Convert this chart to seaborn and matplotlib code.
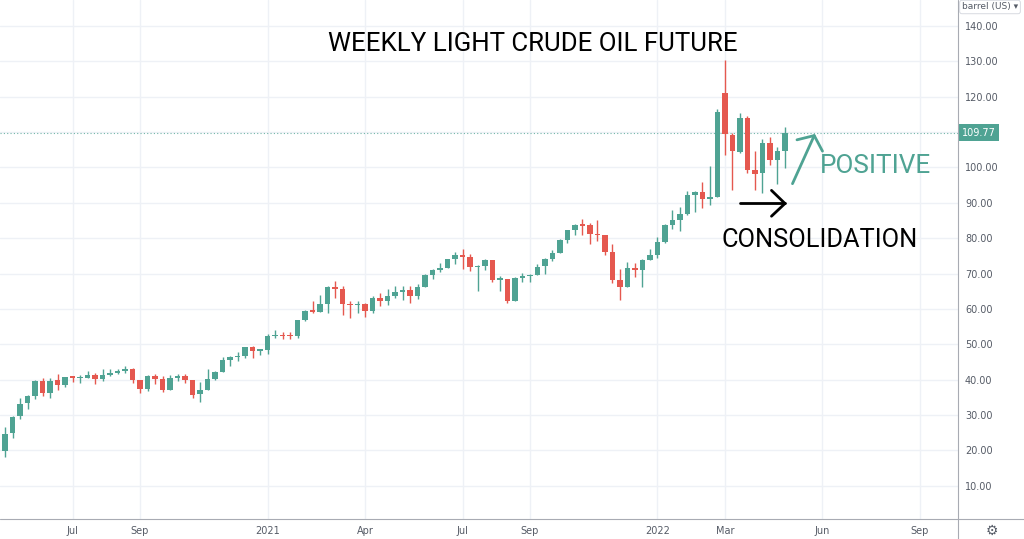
import numpy as np
import pandas as pd
import matplotlib
matplotlib.use("Agg")
import matplotlib.pyplot as plt
import seaborn as sns

# ==========================================
# DATA  (weekly light crude oil future, week of 2020-05-04 .. 2022-05-02)
# ==========================================

start_week = "2020-05-04"

opens = [19.8, 24.9, 29.6, 33.3, 35.5, 39.6, 36.3, 39.8, 38.5, 40.6,
         40.5, 40.6, 41.3, 40.3, 41.3, 42.0, 42.4, 43.0, 39.8, 37.3,
         41.1, 40.3, 37.1, 40.6, 40.9, 39.9, 35.8, 37.1, 40.1, 42.2,
         45.5, 46.3, 46.6, 49.1, 48.2,
         48.5, 52.2, 52.4, 52.3, 52.2, 56.9, 59.5, 59.2, 61.5, 66.1,
         65.6, 61.4, 61.0, 61.5, 59.3, 63.1, 62.1, 63.6, 64.9, 65.4,
         63.6, 66.3, 69.6, 70.9, 71.6, 74.1, 75.2, 74.6, 71.8, 72.1,
         73.9, 68.3, 68.4, 62.3, 68.7, 69.3, 69.7, 72.0, 74.0, 75.9,
         79.4, 82.3, 83.8, 83.6, 81.3, 80.8, 76.1, 68.2, 66.3, 71.7,
         70.9, 73.8,
         75.2, 78.9, 83.8, 85.1, 86.8, 92.3, 93.1, 91.1, 91.6, 121.0,
         109.3, 104.3, 113.9, 99.3, 98.3, 107.0, 102.1, 104.7]

highs = [26.7, 29.6, 34.7, 35.6, 39.8, 40.4, 40.4, 41.6, 40.8, 41.0,
         41.4, 42.5, 41.9, 43.0, 43.0, 43.0, 43.8, 43.4, 39.8, 41.4,
         41.6, 40.9, 41.4, 41.5, 41.7, 39.9, 39.2, 43.1, 42.4, 46.3,
         46.7, 47.7, 49.3, 49.5, 48.6,
         52.8, 53.9, 53.5, 53.4, 57.0, 59.8, 62.3, 63.8, 66.4, 67.9,
         66.4, 62.3, 62.3, 61.6, 63.7, 64.4, 65.5, 66.6, 66.4, 66.5,
         67.0, 69.8, 71.2, 73.0, 74.2, 76.2, 77.0, 75.5, 72.5, 74.0,
         73.9, 69.3, 68.5, 69.0, 70.1, 70.0, 72.6, 74.3, 76.7, 79.8,
         82.3, 84.0, 85.4, 84.3, 85.0, 81.0, 78.4, 71.3, 73.3, 72.9,
         74.0, 77.0,
         80.2, 84.0, 87.9, 88.8, 93.2, 93.2, 95.8, 100.5, 116.6, 130.5,
         109.7, 115.4, 114.5, 104.7, 108.0, 108.6, 105.8, 111.4]

lows = [18.1, 23.4, 28.8, 31.6, 34.4, 35.4, 34.7, 37.1, 37.9, 39.4,
        39.1, 40.4, 38.7, 39.6, 41.0, 41.5, 42.0, 39.0, 36.1, 36.9,
        38.9, 36.6, 37.0, 39.5, 39.0, 34.9, 33.6, 37.0, 39.8, 42.1,
        43.9, 45.2, 46.2, 46.2, 47.1,
        47.2, 51.8, 51.4, 51.5, 51.8, 56.7, 58.7, 59.0, 58.9, 63.1,
        58.3, 57.3, 58.9, 57.6, 58.9, 60.8, 61.1, 63.1, 62.4, 61.6,
        62.9, 66.1, 68.5, 70.4, 71.5, 72.6, 71.4, 70.8, 65.0, 71.1,
        67.6, 65.2, 61.7, 62.1, 67.6, 67.5, 69.5, 69.8, 73.5, 75.8,
        78.7, 81.0, 81.0, 78.3, 79.2, 75.3, 67.4, 62.4, 66.1, 69.0,
        66.1, 73.8,
        74.3, 78.5, 82.7, 82.0, 86.6, 87.4, 88.4, 89.3, 91.6, 103.5,
        93.5, 104.0, 98.4, 93.6, 92.9, 100.6, 95.3, 99.8]

closes = [24.74, 29.43, 33.25, 35.49, 39.55, 36.26, 39.75, 38.49, 40.65, 40.55,
          40.59, 41.29, 40.27, 41.22, 42.01, 42.34, 42.97, 39.77, 37.33, 41.11,
          40.25, 37.05, 40.60, 40.88, 39.85, 35.79, 37.14, 40.13, 42.15, 45.53,
          46.26, 46.57, 49.10, 48.23, 48.52,
          52.24, 52.36, 52.27, 52.20, 56.85, 59.47, 59.24, 61.50, 66.09, 65.61,
          61.42, 60.97, 61.45, 59.32, 63.13, 62.14, 63.58, 64.90, 65.37, 63.58,
          66.32, 69.62, 70.91, 71.64, 74.05, 75.16, 74.56, 71.81, 72.07, 73.95,
          68.28, 68.44, 62.32, 68.74, 69.29, 69.72, 71.97, 73.98, 75.88, 79.35,
          82.28, 83.76, 83.57, 81.27, 80.79, 76.10, 68.15, 66.26, 71.67, 70.86,
          73.79, 75.21,
          78.90, 83.82, 85.14, 86.82, 92.31, 93.10, 91.07, 91.59, 115.68, 109.33,
          104.70, 113.90, 99.27, 98.26, 106.95, 102.07, 104.69, 109.77]

tick_dates = ["2020-07-06", "2020-09-07", "2021-01-04", "2021-04-05", "2021-07-05",
              "2021-09-06", "2022-01-03", "2022-03-07", "2022-06-06", "2022-09-05"]
tick_labels = ["Jul", "Sep", "2021", "Apr", "Jul", "Sep", "2022", "Mar", "Jun", "Sep"]
price_ticks = list(range(10, 150, 10))

# ==========================================
# PREP
# ==========================================

df = pd.DataFrame({
    "week": pd.date_range(start_week, periods=len(closes), freq="7D"),
    "open": opens,
    "high": highs,
    "low": lows,
    "close": closes,
})
df["idx"] = np.arange(len(df))
df["up"] = df["close"] >= df["open"]

t0 = pd.Timestamp(start_week)
tick_pos = [(pd.Timestamp(d) - t0).days / 7 for d in tick_dates]

up_col = "#4fa393"
down_col = "#e5584f"
colors = np.where(df["up"], up_col, down_col)

# ==========================================
# PLOT
# ==========================================

sns.set_style("white")
plt.rcParams["font.family"] = ["DejaVu Sans"]
note_font = ["Roboto", "DejaVu Sans"]

fig = plt.figure(figsize=(10.24, 5.39), dpi=100)
ax = fig.add_axes([0, 20 / 539, 958 / 1024, 519 / 539])

# wicks
ax.vlines(df["idx"], df["low"], df["high"], colors=colors, lw=1, zorder=3)

# bodies
body_bottom = np.minimum(df["open"], df["close"])
body_height = np.maximum((df["close"] - df["open"]).abs(), 0.35)
ax.bar(df["idx"], body_height, bottom=body_bottom, width=0.72,
       color=colors, edgecolor="none", zorder=4)

# last price line
last = df["close"].iloc[-1]
ax.axhline(last, color=up_col, lw=0.8, ls=(0, (1, 2)), alpha=0.8, zorder=2)

ax.set_xlim(-0.67, 127.07)
ax.set_ylim(0.6, 147.33)

ax.set_xticks(tick_pos)
ax.set_xticklabels(tick_labels)
ax.set_yticks(price_ticks)
ax.set_yticklabels([f"{v:.2f}" for v in price_ticks])
ax.yaxis.tick_right()
ax.tick_params(axis="y", length=0, pad=5, labelsize=7, labelcolor="#555b66")
ax.tick_params(axis="x", length=0, pad=5, labelsize=7, labelcolor="#555b66")
ax.grid(True, color="#eef1f6", lw=1)
ax.set_axisbelow(True)
sns.despine(ax=ax, left=True, top=True, right=True, bottom=True)

# price label box
ax.annotate(f"{last:.2f}", xy=(1.0, last), xycoords=("axes fraction", "data"),
            xytext=(3, 0), textcoords="offset points", va="center", ha="left",
            fontsize=7, color="white",
            bbox=dict(boxstyle="square,pad=0.35", fc=up_col, ec="none"))

# scale borders
fig.add_artist(plt.Line2D([958 / 1024, 958 / 1024], [0, 1], color="#a8abb3", lw=0.8))
fig.add_artist(plt.Line2D([0, 1], [20 / 539, 20 / 539], color="#a8abb3", lw=0.8))

fig.text(990 / 1024, 1 - 7 / 539, "barrel (US) \u25be", ha="center", va="center",
         fontsize=6.5, color="#555b66",
         bbox=dict(boxstyle="round,pad=0.25", fc="white", ec="#d1d4dc", lw=0.6))
fig.text(992 / 1024, 8 / 539, "\u2699", ha="center", va="center",
         fontsize=10, color="#555b66")

# annotations
ax.text(70.4, 134.8, "WEEKLY LIGHT CRUDE OIL FUTURE", ha="center", va="center",
        fontsize=18.6, color="black", family=note_font)
ax.text(108.7, 100.5, "POSITIVE", ha="left", va="center",
        fontsize=18.8, color=up_col, family=note_font)
ax.text(95.6, 79.6, "CONSOLIDATION", ha="left", va="center",
        fontsize=18.3, color="black", family=note_font)

# black arrow
ax.plot([98.0, 104.0], [89.8, 89.8], color="black", lw=2, solid_capstyle="round")
ax.plot([102.2, 104.0, 102.2], [93.5, 89.8, 86.2], color="black", lw=2,
        solid_capstyle="round", solid_joinstyle="round")

# teal arrow
ax.plot([105.0, 107.9], [95.4, 109.0], color=up_col, lw=2, solid_capstyle="round")
ax.plot([105.6, 107.9, 109.0], [107.8, 109.0, 104.6], color=up_col, lw=2,
        solid_capstyle="round", solid_joinstyle="round")

fig.savefig("out.png", dpi=100)
